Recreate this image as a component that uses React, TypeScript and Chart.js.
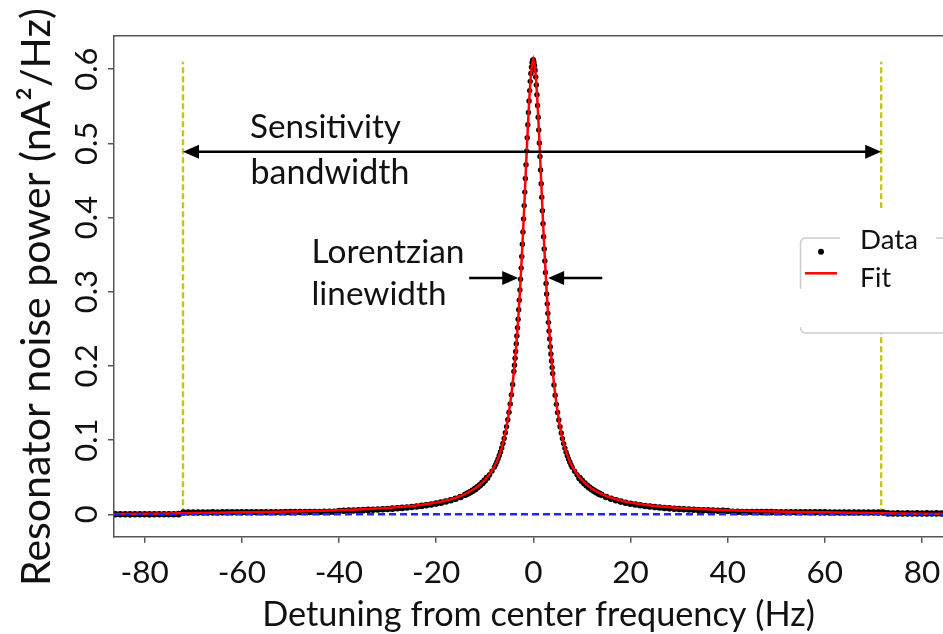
import React, { useEffect, useRef } from "react";
import { Chart, registerables } from "chart.js";

Chart.register(...registerables);

// ---------- data ----------
const dataFreq = [
  -86, -85, -84, -83, -82, -81, -80, -79, -78, -77, -76, -75, -74, -73,
  -72, -71, -70, -69, -68, -67, -66, -65, -64, -63, -62, -61, -60, -59, -58, -57,
  -56, -55, -54, -53, -52, -51, -50, -49, -48, -47, -46, -45, -44, -43, -42, -41,
  -40, -39, -38, -37, -36, -35, -34, -33, -32, -31, -30, -29, -28, -27, -26, -25,
  -24, -23, -22, -21, -20, -19, -18, -17, -16, -15,
  -14, -13.5, -13, -12.5, -12, -11.5, -11, -10.5, -10, -9.5, -9, -8.5,
  -8, -7.75, -7.5, -7.25, -7, -6.75, -6.5, -6.25, -6, -5.75, -5.5, -5.25, -5, -4.75, -4.5, -4.25,
  -4, -3.875, -3.75, -3.625, -3.5, -3.375, -3.25, -3.125, -3, -2.875, -2.75, -2.625,
  -2.5, -2.375, -2.25, -2.125, -2, -1.875, -1.75, -1.625, -1.5, -1.375, -1.25, -1.125,
  -1, -0.875, -0.75, -0.625, -0.5, -0.375, -0.25, -0.125,
  0,
  0.125, 0.25, 0.375, 0.5, 0.625, 0.75, 0.875, 1,
  1.125, 1.25, 1.375, 1.5, 1.625, 1.75, 1.875, 2, 2.125, 2.25, 2.375, 2.5,
  2.625, 2.75, 2.875, 3, 3.125, 3.25, 3.375, 3.5, 3.625, 3.75, 3.875, 4,
  4.25, 4.5, 4.75, 5, 5.25, 5.5, 5.75, 6, 6.25, 6.5, 6.75, 7, 7.25, 7.5, 7.75, 8,
  8.5, 9, 9.5, 10, 10.5, 11, 11.5, 12, 12.5, 13, 13.5, 14,
  15, 16, 17, 18, 19, 20, 21, 22, 23, 24, 25, 26, 27, 28, 29, 30,
  31, 32, 33, 34, 35, 36, 37, 38, 39, 40,
  41, 42, 43, 44, 45, 46, 47, 48, 49, 50, 51, 52, 53, 54, 55, 56,
  57, 58, 59, 60, 61, 62, 63, 64, 65, 66, 67, 68, 69, 70, 71, 72,
  73, 74, 75, 76, 77, 78, 79, 80, 81, 82, 83, 84, 85, 86,
];

const dataPower = [
  0.0001, 0.0, 0.0001, -0.0001, 0.0, 0.0001, 0.0, -0.0001, 0.0, 0.0001, 0.0, 0.0001, 0.0, 0.0002,
  0.0024, 0.0024, 0.0025, 0.0025, 0.0025, 0.0025, 0.0026, 0.0025, 0.0026, 0.0026,
  0.0026, 0.0027, 0.0026, 0.0027, 0.0027, 0.0027, 0.0028, 0.0027, 0.0028, 0.0028,
  0.0028, 0.0029, 0.0029, 0.0029, 0.003, 0.003, 0.003, 0.0031, 0.0031, 0.0032,
  0.0032, 0.0033,
  0.0045, 0.0047, 0.0049, 0.0051, 0.0054, 0.0056, 0.0059, 0.0062, 0.0065, 0.0068,
  0.0072, 0.0076, 0.0081, 0.0086, 0.0092, 0.0098, 0.0105, 0.0113, 0.0122, 0.0132,
  0.0144, 0.0157, 0.0172, 0.019, 0.021, 0.0234,
  0.0263, 0.0279, 0.0298, 0.0318, 0.0339, 0.0363, 0.039, 0.042, 0.0454, 0.0492, 0.0534, 0.0582,
  0.0636, 0.067, 0.0707, 0.0747, 0.0792, 0.084, 0.0894, 0.0955, 0.1022, 0.1099, 0.1182, 0.1274,
  0.1375, 0.1488, 0.1612, 0.175,
  0.1925, 0.201, 0.2102, 0.2195, 0.2298, 0.2402, 0.2515, 0.263, 0.2756, 0.2885, 0.3022, 0.3168,
  0.3318, 0.3475, 0.364, 0.3806, 0.3982, 0.416, 0.4342, 0.4525, 0.4712, 0.4895, 0.5075, 0.525,
  0.5415, 0.557, 0.571, 0.5835, 0.594, 0.6025, 0.6085, 0.612,
  0.6125,
  0.6095, 0.605, 0.5985, 0.5895, 0.5785, 0.5655, 0.551, 0.535,
  0.518, 0.5005, 0.4822, 0.464, 0.4455, 0.4272, 0.4092, 0.3915, 0.3742, 0.3575, 0.3414, 0.326,
  0.3112, 0.297, 0.2836, 0.2708, 0.2587, 0.2471, 0.2362, 0.2258, 0.216, 0.2067, 0.198, 0.1897,
  0.1742, 0.1605, 0.1482, 0.1371, 0.127, 0.118, 0.1097, 0.102, 0.0953, 0.0892, 0.0838, 0.079,
  0.0745, 0.0705, 0.0668, 0.0634,
  0.058, 0.0532, 0.049, 0.0452, 0.0418, 0.0388, 0.0361, 0.0337, 0.0316, 0.0296, 0.0278, 0.0262,
  0.0233, 0.0209, 0.0189, 0.0171, 0.0156, 0.0143, 0.0131, 0.0121, 0.0112, 0.0104, 0.0097, 0.0091,
  0.0085, 0.008, 0.0075, 0.0071,
  0.0067, 0.0064, 0.0061, 0.0058, 0.0055, 0.0053, 0.005, 0.0048, 0.0046, 0.0044,
  0.0033, 0.0032, 0.0031, 0.0031, 0.003, 0.003, 0.0029, 0.0029, 0.0029, 0.0028, 0.0028, 0.0028,
  0.0027, 0.0027, 0.0027, 0.0027, 0.0026, 0.0026, 0.0026, 0.0026, 0.0025, 0.0025, 0.0025, 0.0025,
  0.0025, 0.0024, 0.0024, 0.0024, 0.0024, 0.0024, 0.0023, 0.0023,
  0.0012, 0.0011, 0.0012, 0.0011, 0.0012, 0.0011, 0.0012, 0.0011, 0.0012, 0.0011, 0.0012, 0.0011,
  0.0012, 0.0011,
];

const fitFreq = [
  -86.3, -80, -75, -70, -65, -60, -55, -50, -45, -40, -35, -30, -27.5, -25, -22.5, -20,
  -19, -18, -17, -16, -15, -14, -13, -12, -11, -10, -9, -8, -7.5, -7, -6.5, -6, -5.5, -5,
  -4.5, -4, -3.75, -3.5, -3.25, -3, -2.75, -2.5, -2.25, -2, -1.75, -1.5, -1.25, -1, -0.75,
  -0.5, -0.25, 0, 0.25, 0.5, 0.75, 1, 1.25, 1.5, 1.75, 2, 2.25, 2.5, 2.75, 3, 3.25, 3.5,
  3.75, 4, 4.5, 5, 5.5, 6, 6.5, 7, 7.5, 8, 9, 10, 11, 12, 13, 14, 15, 16, 17, 18, 19, 20,
  22.5, 25, 27.5, 30, 35, 40, 45, 50, 55, 60, 65, 70, 75, 80, 86.3,
];

const fitPower = [
  0.0004, 0.0007, 0.0011, 0.0016, 0.0021, 0.0026, 0.0031, 0.0037, 0.0044, 0.0054, 0.0067, 0.0085,
  0.0097, 0.0112, 0.0131, 0.0157, 0.017, 0.0185, 0.0202, 0.0222, 0.0246, 0.0275, 0.0308, 0.0347,
  0.0397, 0.046, 0.054, 0.0645, 0.0712, 0.0795, 0.0895, 0.102, 0.118, 0.138, 0.162, 0.192, 0.209,
  0.228, 0.25, 0.274, 0.3, 0.33, 0.361, 0.395, 0.431, 0.468, 0.504, 0.538, 0.568, 0.592, 0.607,
  0.613,
  0.607, 0.592, 0.568, 0.538, 0.504, 0.468, 0.431, 0.395, 0.361, 0.33, 0.3, 0.274, 0.25, 0.228,
  0.209, 0.192, 0.162, 0.138, 0.118, 0.102, 0.0895, 0.0795, 0.0712, 0.0645, 0.054, 0.046, 0.0397,
  0.0347, 0.0308, 0.0275, 0.0246, 0.0222, 0.0202, 0.0185, 0.017, 0.0157, 0.0131, 0.0112, 0.0097,
  0.0085, 0.0067, 0.0054, 0.0044, 0.0037, 0.0031, 0.0026, 0.0021, 0.0016, 0.0011, 0.0007, 0.0004,
];

const baselineFreq = [-86.3, 86.3];
const baselinePower = [0, 0];

const bandEdgeFreq = [-72.1, 71.6];
const bandEdgePower = [0, 0.61];

const xTickValues = [-80, -60, -40, -20, 0, 20, 40, 60, 80];
const yTickValues = [0, 0.1, 0.2, 0.3, 0.4, 0.5, 0.6];
const yTickLabels = ["0", "0.1", "0.2", "0.3", "0.4", "0.5", "0.6"];

const X_MIN = -86.3;
const X_MAX = 86.3;
const Y_MIN = -0.0302;
const Y_MAX = 0.645;

const sensitivityArrow = { from: -72.1, to: 71.6, level: 0.4885 };
const linewidthArrowLeft = { from: -13.2, to: -3.1, level: 0.3186 };
const linewidthArrowRight = { from: 14.2, to: 3.05, level: 0.3186 };

// ---------- drawing helpers ----------
const FONT = "Lato, 'Open Sans', sans-serif";
const TEXT = "#111111";
const SPINE = "#555555";

function fittedText(
  ctx: CanvasRenderingContext2D,
  text: string,
  x: number,
  y: number,
  width: number,
  align: CanvasTextAlign = "left"
) {
  ctx.font = `100px ${FONT}`;
  const w = ctx.measureText(text).width;
  const size = (100 * width) / w;
  ctx.font = `${size}px ${FONT}`;
  ctx.textAlign = align;
  ctx.textBaseline = "alphabetic";
  ctx.fillText(text, x, y);
}

function arrow(ctx: CanvasRenderingContext2D, x1: number, x2: number, y: number) {
  const dir = Math.sign(x2 - x1);
  const L = 16;
  const H = 7;
  ctx.beginPath();
  ctx.moveTo(x1, y);
  ctx.lineTo(x2 - dir * L * 0.7, y);
  ctx.stroke();
  ctx.beginPath();
  ctx.moveTo(x2, y);
  ctx.lineTo(x2 - dir * L, y - H);
  ctx.lineTo(x2 - dir * L, y + H);
  ctx.closePath();
  ctx.fill();
}

const overlayPlugin = {
  id: "overlay",
  afterDatasetsDraw(chart: any) {
    const ctx: CanvasRenderingContext2D = chart.ctx;
    const xs = chart.scales.x;
    const ys = chart.scales.y;
    const area = chart.chartArea;
    ctx.save();
    // top spine
    ctx.strokeStyle = SPINE;
    ctx.lineWidth = 1.5;
    ctx.beginPath();
    ctx.moveTo(area.left, area.top);
    ctx.lineTo(area.right, area.top);
    ctx.stroke();

    // arrows
    ctx.strokeStyle = "#000";
    ctx.fillStyle = "#000";
    ctx.lineWidth = 2.5;
    const sy = ys.getPixelForValue(sensitivityArrow.level);
    const sx1 = xs.getPixelForValue(sensitivityArrow.from);
    const sx2 = xs.getPixelForValue(sensitivityArrow.to);
    const mid = (sx1 + sx2) / 2;
    arrow(ctx, mid, sx1, sy);
    arrow(ctx, mid, sx2, sy);
    const ly = ys.getPixelForValue(linewidthArrowLeft.level);
    arrow(ctx, xs.getPixelForValue(linewidthArrowLeft.from), xs.getPixelForValue(linewidthArrowLeft.to), ly);
    arrow(ctx, xs.getPixelForValue(linewidthArrowRight.from), xs.getPixelForValue(linewidthArrowRight.to), ly);

    // annotation text
    ctx.fillStyle = TEXT;
    fittedText(ctx, "Sensitivity", 250, 137.5, 151);
    fittedText(ctx, "bandwidth", 250.5, 183.5, 159);
    fittedText(ctx, "Lorentzian", 311.5, 263.3, 153);
    fittedText(ctx, "linewidth", 311.5, 305, 135);
    ctx.restore();
  },
  afterDraw(chart: any) {
    const ctx: CanvasRenderingContext2D = chart.ctx;
    const xs = chart.scales.x;
    const ys = chart.scales.y;
    ctx.save();
    ctx.fillStyle = TEXT;

    // x tick labels
    ctx.font = `31.5px ${FONT}`;
    ctx.textAlign = "center";
    ctx.textBaseline = "alphabetic";
    for (const v of xTickValues) {
      ctx.fillText(String(v), xs.getPixelForValue(v), 582.5);
    }
    // y tick labels (rotated)
    yTickValues.forEach((v, i) => {
      ctx.save();
      ctx.translate(96.7, ys.getPixelForValue(v));
      ctx.rotate(-Math.PI / 2);
      ctx.font = `31px ${FONT}`;
      ctx.textAlign = "center";
      ctx.fillText(yTickLabels[i], 0, 0);
      ctx.restore();
    });

    // axis titles
    fittedText(ctx, "Detuning from center frequency (Hz)", 538.5, 626, 553, "center");
    ctx.save();
    ctx.translate(50, 297);
    ctx.rotate(-Math.PI / 2);
    fittedText(ctx, "Resonator noise power (nA\u00B2/Hz)", 0, 0, 578, "center");
    ctx.restore();

    // legend
    const bx = 800.5, by = 238, bw = 170, bh = 95, r = 5;
    ctx.beginPath();
    ctx.moveTo(bx + r, by);
    ctx.lineTo(bx + bw - r, by);
    ctx.arcTo(bx + bw, by, bx + bw, by + r, r);
    ctx.lineTo(bx + bw, by + bh - r);
    ctx.arcTo(bx + bw, by + bh, bx + bw - r, by + bh, r);
    ctx.lineTo(bx + r, by + bh);
    ctx.arcTo(bx, by + bh, bx, by + bh - r, r);
    ctx.lineTo(bx, by + r);
    ctx.arcTo(bx, by, bx + r, by, r);
    ctx.closePath();
    ctx.fillStyle = "#ffffff";
    ctx.fill();
    ctx.strokeStyle = "#cccccc";
    ctx.lineWidth = 1.5;
    ctx.stroke();
    // white label block over the frame
    ctx.fillStyle = "#ffffff";
    ctx.fillRect(840, 208, 96, 92);
    ctx.fillRect(796, 289, 8, 38);
    // markers
    ctx.fillStyle = "#000";
    ctx.beginPath();
    ctx.arc(821, 251.7, 3, 0, Math.PI * 2);
    ctx.fill();
    ctx.strokeStyle = "#ff0000";
    ctx.lineWidth = 2.5;
    ctx.beginPath();
    ctx.moveTo(805, 273.3);
    ctx.lineTo(837, 273.3);
    ctx.stroke();
    ctx.fillStyle = TEXT;
    fittedText(ctx, "Data", 860, 249.3, 58);
    fittedText(ctx, "Fit", 860, 287.3, 31);
    ctx.restore();
  },
};

export default function App() {
  const canvasRef = useRef<HTMLCanvasElement | null>(null);

  useEffect(() => {
    if (!canvasRef.current) return;
    const toXY = (xsArr: number[], ysArr: number[]) =>
      xsArr.map((x, i) => ({ x, y: ysArr[i] }));

    const chart = new Chart(canvasRef.current, {
      type: "line",
      data: {
        datasets: [
          {
            label: "baseline",
            data: toXY(baselineFreq, baselinePower),
            borderColor: "#2424ff",
            borderWidth: 2.6,
            borderDash: [7, 4],
            pointRadius: 0,
            order: 0,
          },
          {
            label: "Fit",
            data: toXY(fitFreq, fitPower),
            borderColor: "#ff0000",
            borderWidth: 2.5,
            pointRadius: 0,
            tension: 0,
            order: 1,
          },
          {
            label: "Data",
            data: toXY(dataFreq, dataPower),
            showLine: false,
            pointRadius: (c: any) => (Math.abs(c.raw?.x ?? 0) > 9 ? 3.3 : 2.7),
            pointBorderWidth: 0,
            pointBackgroundColor: "#000000",
            pointBorderColor: "#000000",
            order: 2,
          },
          {
            label: "band-left",
            data: toXY([bandEdgeFreq[0], bandEdgeFreq[0]], bandEdgePower),
            borderColor: "#c4c41c",
            borderWidth: 2.4,
            borderDash: [6, 3],
            pointRadius: 0,
            order: 3,
          },
          {
            label: "band-right",
            data: toXY([bandEdgeFreq[1], bandEdgeFreq[1]], bandEdgePower),
            borderColor: "#c4c41c",
            borderWidth: 2.4,
            borderDash: [6, 3],
            pointRadius: 0,
            order: 3,
          },
        ],
      },
      options: {
        responsive: false,
        animation: false,
        events: [],
        layout: { padding: { left: 0, top: 35.7, right: 27.4, bottom: 0 } },
        plugins: {
          legend: { display: false },
          tooltip: { enabled: false },
        },
        scales: {
          x: {
            type: "linear",
            min: X_MIN,
            max: X_MAX,
            afterBuildTicks: (s: any) => {
              s.ticks = xTickValues.map((v) => ({ value: v }));
            },
            afterFit: (s: any) => {
              s.height = 634 - 536.7;
            },
            ticks: { display: false },
            grid: {
              drawOnChartArea: false,
              drawTicks: true,
              tickLength: 6,
              color: SPINE,
              lineWidth: 1.5,
            },
            border: { display: true, color: SPINE, width: 1.5 },
          },
          y: {
            type: "linear",
            min: Y_MIN,
            max: Y_MAX,
            afterBuildTicks: (s: any) => {
              s.ticks = yTickValues.map((v) => ({ value: v }));
            },
            afterFit: (s: any) => {
              s.width = 114;
            },
            ticks: { display: false },
            grid: {
              drawOnChartArea: false,
              drawTicks: true,
              tickLength: 6,
              color: SPINE,
              lineWidth: 1.5,
            },
            border: { display: true, color: SPINE, width: 1.5 },
          },
        },
      } as any,
      plugins: [overlayPlugin],
    });
    return () => chart.destroy();
  }, []);

  return (
    <div
      style={{
        position: "fixed",
        left: 0,
        top: 0,
        width: 943,
        height: 634,
        overflow: "hidden",
        background: "#ffffff",
      }}
    >
      <canvas ref={canvasRef} width={980} height={634} style={{ display: "block" }} />
    </div>
  );
}
